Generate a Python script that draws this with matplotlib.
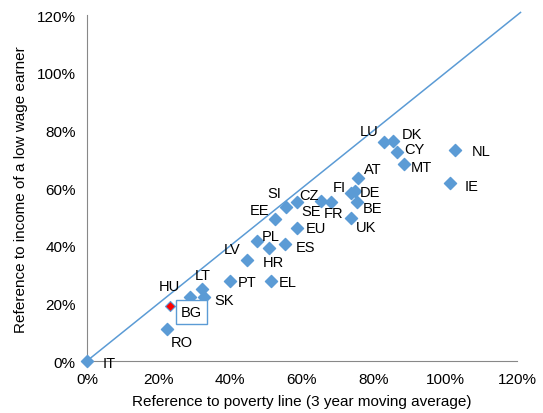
import matplotlib.pyplot as plt
from matplotlib.ticker import PercentFormatter

plt.rcParams['font.family'] = ['Liberation Sans', 'DejaVu Sans']

countries = ['IT', 'RO', 'HU', 'LT', 'SK', 'PT', 'EL', 'LV', 'PL', 'HR', 'ES',
             'EE', 'SI', 'CZ', 'EU', 'SE', 'FR', 'FI', 'DE', 'AT', 'BE', 'UK',
             'LU', 'DK', 'CY', 'MT', 'NL', 'IE']
poverty = [0.00, 0.223, 0.287, 0.320, 0.326, 0.398, 0.515, 0.448, 0.476, 0.507, 0.554,
           0.526, 0.557, 0.587, 0.587, 0.654, 0.682, 0.738, 0.749, 0.757, 0.754, 0.738,
           0.830, 0.855, 0.866, 0.885, 1.027, 1.013]
low_wage = [0.00, 0.111, 0.221, 0.249, 0.221, 0.277, 0.277, 0.349, 0.415, 0.391, 0.405,
            0.494, 0.536, 0.553, 0.463, 0.557, 0.553, 0.584, 0.591, 0.636, 0.553, 0.498,
            0.761, 0.764, 0.726, 0.685, 0.733, 0.619]
# label offsets in pixels
offsets = {'IT': (22, -2), 'RO': (15, -13), 'HU': (-20, 11), 'LT': (1, 14), 'SK': (20, -3),
           'PT': (18, -1), 'EL': (16, -1), 'LV': (-15, 11), 'PL': (13, 5), 'HR': (5, -14),
           'ES': (20, -3), 'EE': (-16, 9), 'SI': (-12, 14), 'CZ': (12, 7), 'EU': (19, 0),
           'SE': (-10, -10), 'FR': (2, -11), 'FI': (-12, 6), 'DE': (15, -1), 'AT': (15, 9),
           'BE': (15, -6), 'UK': (15, -9), 'LU': (-15, 11), 'DK': (19, 7), 'CY': (17, 3),
           'MT': (17, -3), 'NL': (26, -1), 'IE': (22, -3)}
bg_x, bg_y = 0.231, 0.190

blue = '#5B9BD5'
fig = plt.figure(figsize=(5.43, 4.14), dpi=100)
ax = fig.add_axes([0.160, 0.1256, 0.792, 0.835])

ax.plot([0, 1.21], [0, 1.21], color=blue, lw=1.1, clip_on=False, zorder=1)
ax.scatter(poverty, low_wage, marker='D', s=38, color=blue, zorder=3, clip_on=False)
ax.scatter([bg_x], [bg_y], marker='D', s=26, color='red', edgecolor=blue, lw=0.8, zorder=4)

for c, x, y in zip(countries, poverty, low_wage):
    dx, dy = offsets[c]
    ax.annotate(c, (x, y), xytext=(dx * 0.72, dy * 0.72), textcoords='offset points',
                ha='center', va='center', fontsize=10.5, color='#000000')
ax.annotate('BG', (bg_x, bg_y), xytext=(22 * 0.72, -6 * 0.72), textcoords='offset points',
            ha='center', va='center', fontsize=10.5,
            bbox=dict(boxstyle='square,pad=0.35', fc='white', ec=blue, lw=1))

ax.set_xlim(0, 1.2)
ax.set_ylim(0, 1.2)
ax.set_xticks([0, 0.2, 0.4, 0.6, 0.8, 1.0, 1.2])
ax.set_yticks([0, 0.2, 0.4, 0.6, 0.8, 1.0, 1.2])
ax.xaxis.set_major_formatter(PercentFormatter(1.0, decimals=0))
ax.yaxis.set_major_formatter(PercentFormatter(1.0, decimals=0))
ax.tick_params(length=0, labelsize=11, pad=8)
for s in ['top', 'right']:
    ax.spines[s].set_visible(False)
for s in ['left', 'bottom']:
    ax.spines[s].set_color('#888888')
ax.set_xlabel('Reference to poverty line (3 year moving average)', fontsize=11, labelpad=6)
ax.set_ylabel('Reference to income of a low wage earner', fontsize=11, labelpad=6)

fig.savefig('out.png', dpi=100)
